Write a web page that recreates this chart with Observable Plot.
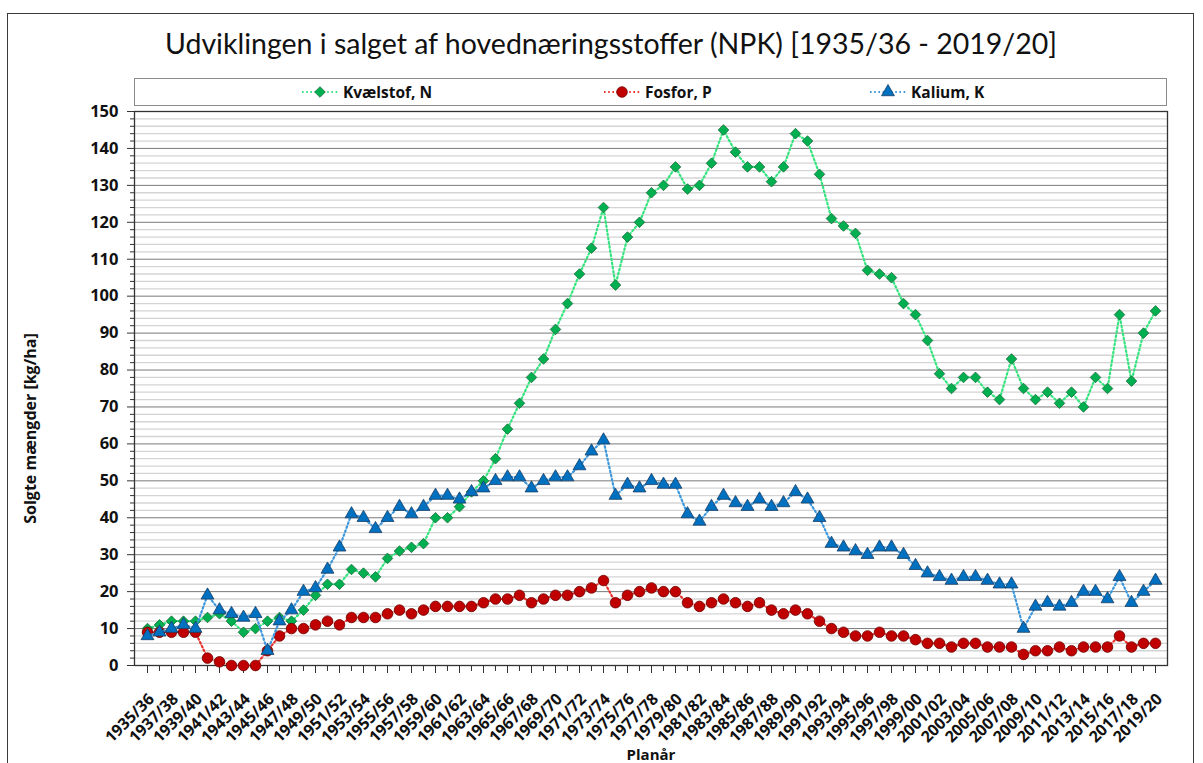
<!DOCTYPE html>
<html><head><meta charset="utf-8">
<script src="https://cdn.jsdelivr.net/npm/d3@7"></script>
<script src="https://cdn.jsdelivr.net/npm/@observablehq/plot@0.6"></script>
<style>
body{margin:0;background:#fff;font-family:Lato,"Open Sans",sans-serif;}
#wrap{position:relative;width:1203px;height:763px;overflow:hidden;background:#fff}
#frame{position:absolute;left:7px;top:13px;width:1187px;height:800px;border:1px solid #3a3a3a;box-sizing:border-box}
#title{position:absolute;left:0;width:1222px;top:26px;text-align:center;font-size:28.5px;color:#111;white-space:nowrap;font-family:Lato,sans-serif}
#legend{position:absolute;left:134px;top:78px;width:1033px;height:28px;border:1px solid #8c8c8c;box-sizing:border-box}
.li{position:absolute;top:80px;height:24px;display:flex;align-items:center;font-weight:bold;font-size:15.5px;color:#111;white-space:nowrap;font-family:"Open Sans",sans-serif}
.li svg{margin-right:5px}
#chart{position:absolute;left:0;top:100px}
</style></head>
<body><div id="wrap"><div id="frame"></div>
<div id="title">Udviklingen i salget af hovednæringsstoffer (NPK) [1935/36 - 2019/20]</div>
<div id="legend"></div>
<div id="chart"></div></div>
<script>
const seasons = ["1935/36","1936/37","1937/38","1938/39","1939/40","1940/41","1941/42","1942/43","1943/44","1944/45",
"1945/46","1946/47","1947/48","1948/49","1949/50","1950/51","1951/52","1952/53","1953/54","1954/55",
"1955/56","1956/57","1957/58","1958/59","1959/60","1960/61","1961/62","1962/63","1963/64","1964/65",
"1965/66","1966/67","1967/68","1968/69","1969/70","1970/71","1971/72","1972/73","1973/74","1974/75",
"1975/76","1976/77","1977/78","1978/79","1979/80","1980/81","1981/82","1982/83","1983/84","1984/85",
"1985/86","1986/87","1987/88","1988/89","1989/90","1990/91","1991/92","1992/93","1993/94","1994/95",
"1995/96","1996/97","1997/98","1998/99","1999/00","2000/01","2001/02","2002/03","2003/04","2004/05",
"2005/06","2006/07","2007/08","2008/09","2009/10","2010/11","2011/12","2012/13","2013/14","2014/15",
"2015/16","2016/17","2017/18","2018/19","2019/20"];
const tickLabels = seasons.filter((d, i) => i % 2 === 0);

const kvaelstof = [10,11,12,12,12,13,14,12,9,10, 12,13,12,15,19,22,22,26,25,24,
 29,31,32,33,40,40,43,47,50,56, 64,71,78,83,91,98,106,113,124,103,
 116,120,128,130,135,129,130,136,145,139, 135,135,131,135,144,142,133,121,119,117,
 107,106,105,98,95,88,79,75,78,78, 74,72,83,75,72,74,71,74,70,78, 75,95,77,90,96];
const fosfor = [9,9,9,9,9,2,1,0,0,0, 4,8,10,10,11,12,11,13,13,13,
 14,15,14,15,16,16,16,16,17,18, 18,19,17,18,19,19,20,21,23,17,
 19,20,21,20,20,17,16,17,18,17, 16,17,15,14,15,14,12,10,9,8,
 8,9,8,8,7,6,6,5,6,6, 5,5,5,3,4,4,5,4,5,5, 5,8,5,6,6];
const kalium = [8,9,10,11,10,19,15,14,13,14, 4,12,15,20,21,26,32,41,40,37,
 40,43,41,43,46,46,45,47,48,50, 51,51,48,50,51,51,54,58,61,46,
 49,48,50,49,49,41,39,43,46,44, 43,45,43,44,47,45,40,33,32,31,
 30,32,32,30,27,25,24,23,24,24, 23,22,22,10,16,17,16,17,20,20, 18,24,17,20,23];

const yMajor = d3.range(0, 151, 10);
const yMinor = d3.range(0, 151, 2).filter(v => v % 10 !== 0);

const series = [
  {name: "Kvælstof, N", values: kvaelstof, line: "#35e47e", fill: "#00b050", stroke: "#1d6b3a", symbol: "diamond2", r: 4.8, lx: 302},
  {name: "Fosfor, P", values: fosfor, line: "#e8322e", fill: "#c00000", stroke: "#6e0000", symbol: "circle", r: 5.3, lx: 604},
  {name: "Kalium, K", values: kalium, line: "#3d97dc", fill: "#0070c0", stroke: "#1b3f66", symbol: "triangle", r: 4.8, lx: 870}
];

const dash = "1.6,2.6";
const seriesMarks = series.flatMap(s => [
  Plot.line(s.values, {x: (d, i) => seasons[i], y: d => d, stroke: s.line, strokeWidth: 2.2, strokeDasharray: dash}),
  Plot.dot(s.values, {x: (d, i) => seasons[i], y: d => d, symbol: s.symbol, r: s.r, fill: s.fill, stroke: s.stroke, strokeWidth: 0.8})
]);

const bold = {fontWeight: "bold"};
const chart = Plot.plot({
  width: 1203, height: 663,
  marginLeft: 134, marginRight: 36, marginTop: 11, marginBottom: 98,
  style: {fontFamily: "'Open Sans', sans-serif", color: "#111", background: "transparent", overflow: "visible"},
  x: {type: "point", domain: seasons, padding: 0, label: null, axis: null},
  y: {domain: [0, 150], label: null, axis: null},
  marks: [
    Plot.ruleY(yMinor, {stroke: "#d4d4d4", strokeWidth: 1.3}),
    Plot.ruleY(yMajor.filter(v => v > 0), {stroke: "#7a7a7a", strokeWidth: 1}),
    Plot.axisY(yMinor, {tickSize: 4, tickFormat: () => "", stroke: "#333", label: null}),
    Plot.axisY(yMajor, {tickSize: 7, tickPadding: 9, fontSize: 16.5, ...bold, stroke: "#333", label: null}),
    Plot.axisX(seasons, {tickSize: 6, tickFormat: () => "", stroke: "#333", label: null}),
    Plot.axisX(tickLabels, {tickSize: 8, tickFormat: () => "", stroke: "#333", label: null}),
    Plot.text(tickLabels, {x: d => d, text: d => d, frameAnchor: "bottom", lineAnchor: "middle", rotate: -45, textAnchor: "end", dx: 4, dy: 31, fontSize: 16, ...bold}),
    Plot.frame({stroke: "#333", strokeWidth: 1.3}),
    ...seriesMarks,
    Plot.text(["Solgte mængder [kg/ha]"], {text: d => d, frameAnchor: "left", textAnchor: "middle", lineAnchor: "middle", rotate: -90, dx: -104, dy: 40, fontSize: 16, ...bold}),
    Plot.text(["Planår"], {text: d => d, frameAnchor: "bottom", lineAnchor: "middle", dx: 0, dy: 90, fontSize: 15, ...bold})
  ]
});
document.getElementById("chart").appendChild(chart);

const wrap = document.getElementById("wrap");
const sym = {diamond2: d3.symbolDiamond2, circle: d3.symbolCircle, triangle: d3.symbolTriangle};
series.forEach(s => {
  const div = document.createElement("div");
  div.className = "li";
  div.style.left = s.lx + "px";
  const path = d3.symbol(sym[s.symbol], Math.PI * s.r * s.r)();
  div.innerHTML = `<svg width="36" height="16"><line x1="0" x2="36" y1="8" y2="8" stroke="${s.line}" stroke-width="2" stroke-dasharray="${dash}"/><path transform="translate(18,8)" d="${path}" fill="${s.fill}" stroke="${s.stroke}" stroke-width="0.8"/></svg><span>${s.name}</span>`;
  wrap.appendChild(div);
});
</script></body></html>
